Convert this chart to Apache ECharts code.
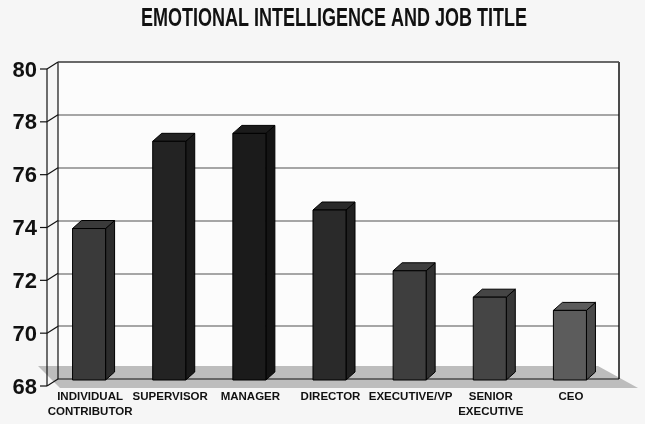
<!DOCTYPE html>
<html>
<head>
<meta charset="utf-8">
<script src="https://cdn.jsdelivr.net/npm/echarts@6/dist/echarts.min.js"></script>
<style>
  html, body { margin: 0; padding: 0; background: #f6f6f6; }
  #chart { width: 645px; height: 424px; }
</style>
</head>
<body>
<div id="chart"></div>
<script>
// data
var categories = ['INDIVIDUAL\nCONTRIBUTOR', 'SUPERVISOR', 'MANAGER', 'DIRECTOR', 'EXECUTIVE/VP', 'SENIOR\nEXECUTIVE', 'CEO'];
var eqScores = [74.0, 77.3, 77.6, 74.7, 72.4, 71.4, 70.9];
var yTicks = [68, 70, 72, 74, 76, 78, 80];

// face colours per bar (front, side)
var barFront = ['#3a3a3a', '#232323', '#1b1b1b', '#2a2a2a', '#3e3e3e', '#454545', '#5c5c5c'];
var barSide = ['#2c2c2c', '#1a1a1a', '#141414', '#202020', '#313131', '#373737', '#4a4a4a'];

var DEPTH_X = 9, DEPTH_Y = 8;   // bar depth
var WALL_X = 11, WALL_Y = 7;    // front axis offset from back wall
var FONT = '"Liberation Sans", Arial, sans-serif';

var chart = echarts.init(document.getElementById('chart'), null, { renderer: 'canvas' });

// floor, wall borders and front axis line
function renderFrame(params, api) {
  var cs = params.coordSys;
  var yBot = api.coord([0, yTicks[0]])[1];
  var yTop = api.coord([0, yTicks[yTicks.length - 1]])[1];
  var left = cs.x, right = cs.x + cs.width;
  var line = function (x1, y1, x2, y2, color, w) {
    return { type: 'line', shape: { x1: x1, y1: y1, x2: x2, y2: y2 },
      style: { stroke: color, lineWidth: w || 1 } };
  };
  return {
    type: 'group',
    children: [
      { type: 'polygon',
        shape: { points: [[left - 20, yBot - 13], [right - 21, yBot - 13], [right + 19, yBot + 9], [left + 2, yBot + 9]] },
        style: { fill: '#bdbdbd' } },
      line(left, yBot, right, yBot, '#111', 1.2),
      line(left, yTop, left, yBot, '#111', 1.2),
      line(right, yTop, right, yBot, '#111', 1.5),
      line(left, yTop, right, yTop, '#555', 1.5),
      line(left - WALL_X, yTop + WALL_Y, left - WALL_X, yBot + WALL_Y, '#111', 1.2)
    ]
  };
}

// front tick + connector to the back wall
function renderTick(params, api) {
  var cs = params.coordSys;
  var y = api.coord([0, api.value(1)])[1];
  var fx = cs.x - WALL_X, fy = y + WALL_Y;
  return {
    type: 'group',
    children: [
      { type: 'line', shape: { x1: fx - 7, y1: fy, x2: fx, y2: fy }, style: { stroke: '#111', lineWidth: 1.2 } },
      { type: 'line', shape: { x1: fx, y1: fy, x2: cs.x, y2: y }, style: { stroke: '#111', lineWidth: 1.2 } }
    ]
  };
}

// pseudo 3D column
function renderBar(params, api) {
  var idx = params.dataIndex;
  var back = api.coord([api.value(0), api.value(1)]);
  var base = api.coord([api.value(0), yTicks[0]]);
  var half = api.size([1, 0])[0] * 0.206;
  var cx = back[0] - DEPTH_X;
  var fl = cx - half, fr = cx + half;
  var ft = back[1] + DEPTH_Y, fb = base[1] + 1;
  var edge = { stroke: '#000', lineWidth: 1, lineJoin: 'round' };
  return {
    type: 'group',
    children: [
      { type: 'polygon',
        shape: { points: [[fr, ft], [fr + DEPTH_X, ft - DEPTH_Y], [fr + DEPTH_X, fb - DEPTH_Y], [fr, fb]] },
        style: Object.assign({ fill: barSide[idx] }, edge) },
      { type: 'polygon',
        shape: { points: [[fl, ft], [fr, ft], [fr + DEPTH_X, ft - DEPTH_Y], [fl + DEPTH_X, ft - DEPTH_Y]] },
        style: Object.assign({ fill: barFront[idx] }, edge) },
      { type: 'rect',
        shape: { x: fl, y: ft, width: fr - fl, height: fb - ft },
        style: Object.assign({ fill: barFront[idx] }, edge) }
    ]
  };
}

var option = {
  backgroundColor: '#f6f6f6',
  animation: false,
  graphic: [{
    type: 'text',
    x: 334, y: 19,
    scaleX: 0.72,
    style: {
      text: 'EMOTIONAL INTELLIGENCE AND JOB TITLE',
      font: 'bold 25px ' + FONT,
      fill: '#111',
      align: 'center', verticalAlign: 'middle',
      textAlign: 'center', textVerticalAlign: 'middle'
    }
  }],
  grid: {
    left: 58, right: 26, top: 62, bottom: 45,
    show: true, backgroundColor: '#fcfcfc', borderWidth: 0
  },
  xAxis: {
    type: 'category',
    data: categories,
    axisLine: { show: false },
    axisTick: { show: false },
    axisLabel: {
      interval: 0,
      margin: 11,
      padding: [0, 16, 0, 0],
      color: '#111',
      fontFamily: FONT,
      fontWeight: 'bold',
      fontSize: 11.5,
      lineHeight: 14.5
    }
  },
  yAxis: {
    type: 'value',
    min: 68, max: 80, interval: 2,
    axisLine: { show: false },
    axisTick: { show: false },
    splitLine: { lineStyle: { color: '#8a8a8a', width: 1.5 } },
    axisLabel: {
      margin: 21,
      verticalAlign: 'top',
      lineHeight: 17,
      color: '#111',
      fontFamily: FONT,
      fontWeight: 'bold',
      fontSize: 22
    }
  },
  series: [
    { type: 'custom', name: 'frame', z: 1, silent: true,
      renderItem: renderFrame, data: [[0, yTicks[0]]], encode: { x: 0, y: 1 } },
    { type: 'custom', name: 'ticks', z: 1, silent: true,
      renderItem: renderTick, data: yTicks.map(function (v) { return [0, v]; }), encode: { x: 0, y: 1 } },
    { type: 'custom', name: 'EQ score', z: 3,
      renderItem: renderBar,
      data: eqScores.map(function (v, i) { return [i, v]; }),
      encode: { x: 0, y: 1 } }
  ]
};

chart.setOption(option);
</script>
</body>
</html>
